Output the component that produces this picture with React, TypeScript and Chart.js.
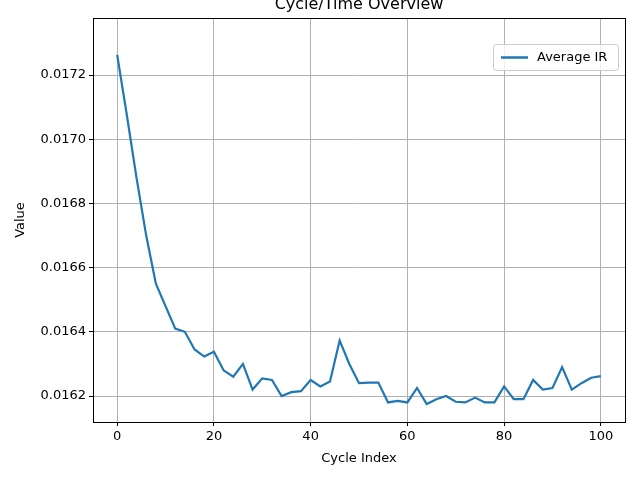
import { useEffect, useRef } from "react"
import { Chart, registerables } from "chart.js"

Chart.register(...registerables)

const cycles = [0, 2, 4, 6, 8, 10, 12, 14, 16, 18, 20, 22, 24, 26, 28, 30, 32, 34, 36, 38, 40, 42, 44, 46, 48, 50, 52, 54, 56, 58, 60, 62, 64, 66, 68, 70, 72, 74, 76, 78, 80, 82, 84, 86, 88, 90, 92, 94, 96, 98, 100]
const avgIR = [
  0.017263, 0.017075, 0.01688, 0.01670, 0.01655, 0.01648, 0.01641, 0.01640, 0.016345, 0.016323,
  0.016338, 0.01628, 0.01626, 0.0163, 0.01622, 0.016255, 0.01625, 0.01620, 0.016212, 0.016215,
  0.01625, 0.01623, 0.016245, 0.016373, 0.0163, 0.01624, 0.016242, 0.016242, 0.01618, 0.016185,
  0.01618, 0.016225, 0.016175, 0.01619, 0.0162, 0.016182, 0.01618, 0.016195, 0.01618, 0.01618,
  0.01623, 0.01619, 0.01619, 0.01625, 0.01622, 0.016225, 0.01629, 0.01622, 0.01624, 0.016257, 0.016262,
]
const xTicks = [0, 20, 40, 60, 80, 100]
const yTicks = [0.0162, 0.0164, 0.0166, 0.0168, 0.017, 0.0172]

const FONT = "'DejaVu Sans', sans-serif"
const BLUE = "#1f77b4"

export default function App() {
  const chartRef = useRef<HTMLCanvasElement>(null)
  const chartInstance = useRef<Chart | null>(null)

  useEffect(() => {
    document.body.style.margin = "0"
    if (!chartRef.current) return
    if (chartInstance.current) chartInstance.current.destroy()

    // title, frame and legend drawn by hand, matplotlib style
    const overlay = {
      id: "overlay",
      afterDraw(chart: Chart) {
        const { ctx, chartArea } = chart
        ctx.save()
        ctx.strokeStyle = "#000"
        ctx.lineWidth = 1
        ctx.strokeRect(chartArea.left + 0.5, chartArea.top + 0.5, chartArea.right - chartArea.left, chartArea.bottom - chartArea.top)
        ctx.fillStyle = "#000"
        ctx.font = `16px ${FONT}`
        ctx.textAlign = "center"
        ctx.textBaseline = "bottom"
        ctx.fillText("Cycle/Time Overview", (chartArea.left + chartArea.right) / 2, chartArea.top - 5)
        // legend box
        const bx = chartArea.right - 132, by = chartArea.top + 26, bw = 125, bh = 26
        ctx.strokeStyle = "#cccccc"
        ctx.fillStyle = "rgba(255,255,255,0.8)"
        ctx.beginPath()
        ctx.roundRect(bx + 0.5, by + 0.5, bw, bh, 3)
        ctx.fill()
        ctx.stroke()
        ctx.strokeStyle = BLUE
        ctx.lineWidth = 2.5
        ctx.beginPath()
        ctx.moveTo(bx + 8, by + 13.5)
        ctx.lineTo(bx + 35, by + 13.5)
        ctx.stroke()
        ctx.fillStyle = "#000"
        ctx.font = `13px ${FONT}`
        ctx.textAlign = "left"
        ctx.textBaseline = "middle"
        ctx.fillText("Average IR", bx + 44, by + 14)
        ctx.restore()
      },
    }

    chartInstance.current = new Chart(chartRef.current, {
      type: "line",
      data: {
        datasets: [
          {
            label: "Average IR",
            data: cycles.map((c, i) => ({ x: c, y: avgIR[i] })),
            borderColor: BLUE,
            borderWidth: 2.2,
            pointRadius: 0,
            tension: 0,
          },
        ],
      },
      options: {
        animation: false,
        responsive: false,
        layout: { padding: { top: 18, right: 15, left: 0, bottom: 0 } },
        plugins: { legend: { display: false }, tooltip: { enabled: false } },
        scales: {
          x: {
            type: "linear",
            min: -5,
            max: 105,
            afterBuildTicks: (s) => { s.ticks = xTicks.map((v) => ({ value: v })) },
            afterFit: (s) => { s.height = 58 },
            grid: { color: "#b0b0b0", tickColor: "#000", tickLength: 4 },
            border: { color: "#000" },
            ticks: { color: "#000", font: { family: FONT, size: 13 }, maxRotation: 0 },
            title: { display: true, text: "Cycle Index", color: "#000", font: { family: FONT, size: 13 }, padding: { top: 2, bottom: 14 } },
          },
          y: {
            min: 0.016119,
            max: 0.017378,
            afterBuildTicks: (s) => { s.ticks = yTicks.map((v) => ({ value: v })) },
            afterFit: (s) => { s.width = 93 },
            grid: { color: "#b0b0b0", tickColor: "#000", tickLength: 4 },
            border: { color: "#000" },
            ticks: { color: "#000", font: { family: FONT, size: 13 }, callback: (v) => Number(v).toFixed(4) },
            title: { display: true, text: "Value", color: "#000", font: { family: FONT, size: 13 }, padding: { top: 13, bottom: 4 } },
          },
        },
      },
      plugins: [overlay],
    })

    return () => {
      if (chartInstance.current) chartInstance.current.destroy()
    }
  }, [])

  return (
    <div style={{ width: 640, height: 480, background: "#fff" }}>
      <canvas ref={chartRef} width={640} height={480}></canvas>
    </div>
  )
}
